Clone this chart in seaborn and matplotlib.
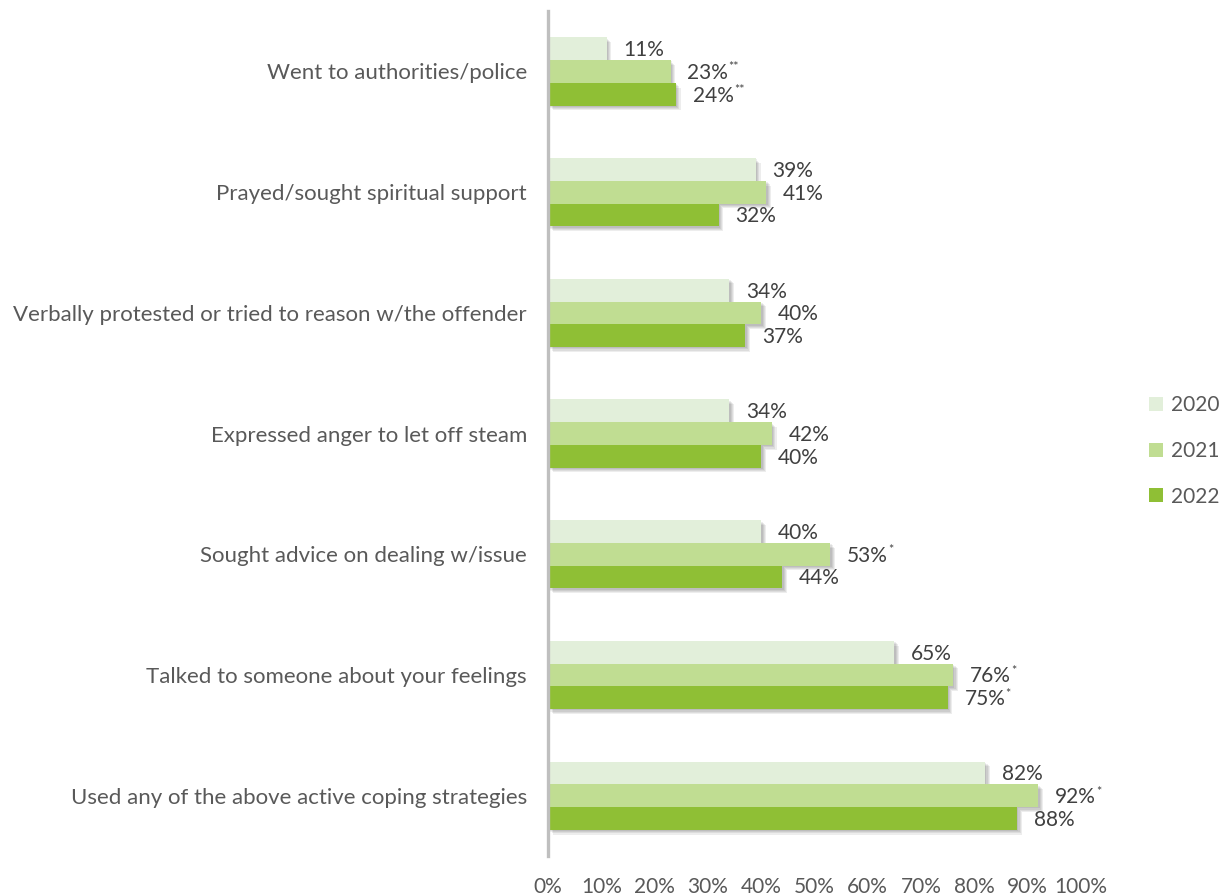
import matplotlib
matplotlib.use("Agg")
import matplotlib.pyplot as plt
import matplotlib.patheffects as pe
from matplotlib.patches import Patch
import seaborn as sns
import pandas as pd

categories = [
    "Went to authorities/police",
    "Prayed/sought spiritual support",
    "Verbally protested or tried to reason w/the offender",
    "Expressed anger to let off steam",
    "Sought advice on dealing w/issue",
    "Talked to someone about your feelings",
    "Used any of the above active coping strategies",
]
years = ["2020", "2021", "2022"]
values_2020 = [11, 39, 34, 34, 40, 65, 82]
values_2021 = [23, 41, 40, 42, 53, 76, 92]
values_2022 = [24, 32, 37, 40, 44, 75, 88]
marks_2020 = ["", "", "", "", "", "", ""]
marks_2021 = ["**", "", "", "", "*", "*", "*"]
marks_2022 = ["**", "", "", "", "", "*", ""]
x_ticks = [0, 10, 20, 30, 40, 50, 60, 70, 80, 90, 100]

colors = ["#E2EFDA", "#C0DD92", "#8FBF35"]
text_color = "#404040"
tick_color = "#595959"
font = "Lato"

series = [values_2020, values_2021, values_2022]
marks = [marks_2020, marks_2021, marks_2022]

df = pd.DataFrame({
    "category": categories * 3,
    "value": values_2020 + values_2021 + values_2022,
    "year": [y for y in years for _ in categories],
})

sns.set_theme(style="white")
plt.rcParams["font.family"] = [font, "DejaVu Sans"]

fig = plt.figure(figsize=(12.22, 8.96), dpi=100)
ax = fig.add_axes([0.4484, 0.0446, 0.4362, 0.943])

sns.barplot(
    data=df, y="category", x="value", hue="year", order=categories,
    hue_order=years, palette=colors, saturation=1, width=0.565,
    orient="h", legend=False, ax=ax, linewidth=0,
)

# soft drop shadow under each bar
shadow = [pe.SimplePatchShadow(offset=(d, -d), shadow_rgbFace="black", alpha=0.07)
          for d in (1.0, 1.8, 2.6, 3.4)] + [pe.Normal()]
for container in ax.containers:
    for bar in container:
        bar.set_path_effects(shadow)

# value labels with significance marks as superscripts
for container, vals, mk in zip(ax.containers, series, marks):
    for bar, v, m in zip(container, vals, mk):
        y = bar.get_y() + bar.get_height() / 2
        t = ax.annotate(f"{v}%", xy=(bar.get_width(), y), xytext=(12, -1),
                        textcoords="offset points", ha="left", va="center",
                        fontsize=15, color=text_color, family=font)
        if m:
            ax.annotate(m, xy=(1, 1), xycoords=t, xytext=(0.3, 1),
                        textcoords="offset points", ha="left", va="top",
                        fontsize=9, color=text_color, family=font)

ax.set_xlim(0, 100)
ax.set_xticks(x_ticks)
ax.set_xticklabels([f"{t}%" for t in x_ticks])
ax.set_xlabel("")
ax.set_ylabel("")
ax.tick_params(axis="x", length=0, pad=15, labelsize=15, labelcolor=tick_color)
ax.tick_params(axis="y", length=0, pad=15, labelsize=16, labelcolor=tick_color)
for s in ("top", "right", "bottom"):
    ax.spines[s].set_visible(False)
ax.spines["left"].set_color("#BFBFBF")
ax.spines["left"].set_linewidth(2.4)
ax.grid(False)

handles = [Patch(facecolor=c, edgecolor="none", label=y) for c, y in zip(colors, years)]
fig.legend(handles=handles, loc="center left", bbox_to_anchor=(0.9403, 0.4967),
           frameon=False, fontsize=15, labelcolor=tick_color,
           handlelength=0.65, handleheight=0.65, handletextpad=0.4,
           labelspacing=1.23, borderpad=0, borderaxespad=0)

fig.savefig("out.png", dpi=100)
